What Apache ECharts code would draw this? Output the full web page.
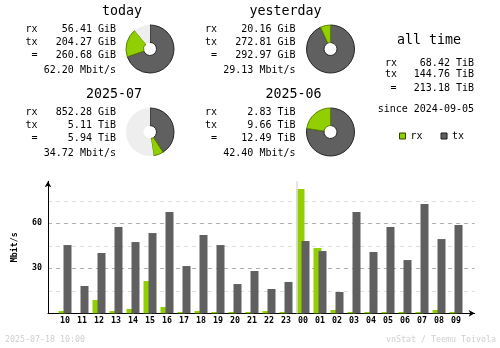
<!DOCTYPE html>
<html><head><meta charset="utf-8">
<script src="https://cdn.jsdelivr.net/npm/echarts@6/dist/echarts.min.js"></script>
<style>html,body{margin:0;padding:0;background:#fff}#c{width:500px;height:348px}</style>
</head><body><div id="c"></div>
<script>
// ---- hourly chart data (Mbit/s) ----
const hours = ['10','11','12','13','14','15','16','17','18','19','20','21','22','23','00','01','02','03','04','05','06','07','08','09'];
const rxRate = [1.5, 0, 8.9, 1.5, 2.9, 21.5, 4.2, 0.9, 1.5, 0.9, 0.9, 0.9, 1.5, 0.9, 82.9, 43.5, 2.2, 0.9, 0.9, 0.9, 0.9, 0.9, 2.2, 0.9];
const txRate = [45.5, 18.2, 40.2, 57.5, 47.5, 53.5, 67.5, 31.5, 52.2, 45.5, 19.5, 28.2, 16.2, 20.9, 48.2, 41.5, 14.2, 67.5, 40.9, 57.5, 35.5, 72.9, 49.5, 58.9];
const yTickLabels = [30, 60];
const yAxisName = 'Mbit/s';

// ---- summary blocks ----
const blockTitles = ['today', 'yesterday', '2025-07', '2025-06'];
const rxText = ['56.41 GiB', '20.16 GiB', '852.28 GiB', '2.83 TiB'];
const txText = ['204.27 GiB', '272.81 GiB', '5.11 TiB', '9.66 TiB'];
const totalText = ['260.68 GiB', '292.97 GiB', '5.94 TiB', '12.49 TiB'];
const rateText = ['62.20 Mbit/s', '29.13 Mbit/s', '34.72 Mbit/s', '42.40 Mbit/s'];
// donut values (same unit within a block) and full-circle reference
const pieRx = [56.41, 20.16, 0.8323, 2.83];
const pieTx = [204.27, 272.81, 5.11, 9.66];
const pieFull = [292.97, 292.97, 12.49, 12.49];

const allTimeTitle = 'all time';
const allTimeRows = [['rx', '68.42 TiB'], ['tx', '144.76 TiB'], ['=', '213.18 TiB']];
const sinceText = 'since 2024-09-05';
const footerLeft = '2025-07-18 10:00';
const footerRight = 'vnStat / Teemu Toivola';

// ---- styles ----
const RX = '#92cf00', TX = '#606060';
const MONO = '"DejaVu Sans Mono", monospace';
const F_TITLE = '13.3px ' + MONO;
const F_TEXT = '10px ' + MONO;
const F_SMALL = '8.3px ' + MONO;

const chart = echarts.init(document.getElementById('c'), null, {renderer: 'canvas'});

const blockOffX = [0, 179.5, 0, 179.5];
const blockOffY = [0, 0, 83, 83];
const rowY = [29.7, 42, 55.3, 70.3];

const graphic = [];
function txt(x, y, s, font, align, fill) {
  graphic.push({type: 'text', x: x, y: y, silent: true,
    style: {text: s, font: font, align: align, verticalAlign: 'middle', fill: fill || '#000'}});
}
for (let i = 0; i < 4; i++) {
  const dx = blockOffX[i], dy = blockOffY[i];
  txt(142 + dx, 11.5 + dy, blockTitles[i], F_TITLE, 'right');
  txt(25.5 + dx, rowY[0] + dy, 'rx', F_TEXT, 'left');
  txt(25.5 + dx, rowY[1] + dy, 'tx', F_TEXT, 'left');
  txt(31.5 + dx, rowY[2] + dy, '=', F_TEXT, 'left');
  txt(116 + dx, rowY[0] + dy, rxText[i], F_TEXT, 'right');
  txt(116 + dx, rowY[1] + dy, txText[i], F_TEXT, 'right');
  txt(116 + dx, rowY[2] + dy, totalText[i], F_TEXT, 'right');
  txt(116 + dx, rowY[3] + dy, rateText[i], F_TEXT, 'right');
}
txt(429, 40.3, allTimeTitle, F_TITLE, 'center');
const atY = [63, 74.7, 88.7];
allTimeRows.forEach((r, k) => {
  txt(r[0] === '=' ? 390.5 : 385, atY[k], r[0], F_TEXT, 'left');
  txt(474, atY[k], r[1], F_TEXT, 'right');
});
txt(474, 109, sinceText, F_TEXT, 'right');
txt(5, 340, footerLeft, F_SMALL, 'left', '#cfcfcf');
txt(496, 340, footerRight, F_SMALL, 'right', '#cfcfcf');

const pieCX = [150, 330.5, 150, 330.5];
const pieCY = [49, 49, 132, 132];
const pieSeries = blockTitles.map((t, i) => ({
  type: 'pie', center: [pieCX[i], pieCY[i]], radius: [6.5, 24],
  startAngle: 90, clockwise: true, silent: true, animation: false,
  label: {show: false}, labelLine: {show: false}, emphasis: {disabled: true},
  data: [
    {name: 'p_tx', value: pieTx[i], itemStyle: {color: TX, borderColor: '#262626', borderWidth: 1}},
    {name: 'p_rx', value: pieRx[i], itemStyle: {color: RX, borderColor: '#5a8200', borderWidth: 1}},
    {name: 'p_rest', value: Math.max(0, pieFull[i] - pieRx[i] - pieTx[i]), itemStyle: {color: '#eeeeee', borderWidth: 0}}
  ]
}));

const dayBreak = hours.indexOf('00') - 0.5;

chart.setOption({
  animation: false,
  backgroundColor: '#ffffff',
  grid: {left: 48, right: 25.3, top: 181.3, bottom: 34.7},
  legend: {
    left: 399, top: 131, padding: 0, itemWidth: 6, itemHeight: 6, itemGap: 18, itemTextGap: 5,
    icon: 'rect', selectedMode: false,
    textStyle: {fontFamily: MONO, fontSize: 10, lineHeight: 8, color: '#000'},
    data: [
      {name: 'rx', itemStyle: {color: RX, borderColor: '#2f4500', borderWidth: 1}},
      {name: 'tx', itemStyle: {color: TX, borderColor: '#1a1a1a', borderWidth: 1}}
    ]
  },
  xAxis: {
    type: 'value', min: -1, max: 24.1, interval: 1,
    axisLine: {show: true, onZero: false, symbol: ['none', 'arrow'], symbolSize: [5, 6], lineStyle: {color: '#000', width: 1}},
    axisTick: {show: false}, splitLine: {show: false},
    axisLabel: {margin: 4, fontFamily: MONO, fontSize: 8.3, fontWeight: 'bold', color: '#000',
      formatter: v => (Number.isInteger(v) && hours[v] !== undefined) ? hours[v] : ''}
  },
  yAxis: {
    type: 'value', min: 0, max: 88, interval: 15,
    name: yAxisName, nameLocation: 'middle', nameRotate: 90, nameGap: 29,
    nameTextStyle: {fontFamily: MONO, fontSize: 8.3, fontWeight: 'bold', color: '#000'},
    axisLine: {show: true, onZero: false, symbol: ['none', 'arrow'], symbolSize: [5, 6], lineStyle: {color: '#000', width: 1}},
    axisTick: {show: false},
    axisLabel: {margin: 6, fontFamily: MONO, fontSize: 8.3, fontWeight: 'bold', color: '#000',
      formatter: v => yTickLabels.includes(v) ? String(v) : ''},
    splitLine: {show: true, showMinLine: false, showMaxLine: false,
      lineStyle: {color: ['#dcdcdc', '#b0b0b0'], type: [4, 4], width: 1}}
  },
  graphic: graphic,
  series: [
    {name: 'rx', type: 'bar', barWidth: 8, barGap: '-37.5%', itemStyle: {color: RX},
     data: rxRate.map((v, i) => [i, v]), silent: true},
    {name: 'tx', type: 'bar', barWidth: 8, barGap: '-37.5%', itemStyle: {color: TX},
     data: txRate.map((v, i) => [i, v]), silent: true,
     markLine: {silent: true, symbol: 'none', label: {show: false},
       lineStyle: {color: '#dddddd', type: 'solid', width: 1.5},
       data: [{xAxis: dayBreak}]}}
  ].concat(pieSeries)
});
</script>
</body></html>
